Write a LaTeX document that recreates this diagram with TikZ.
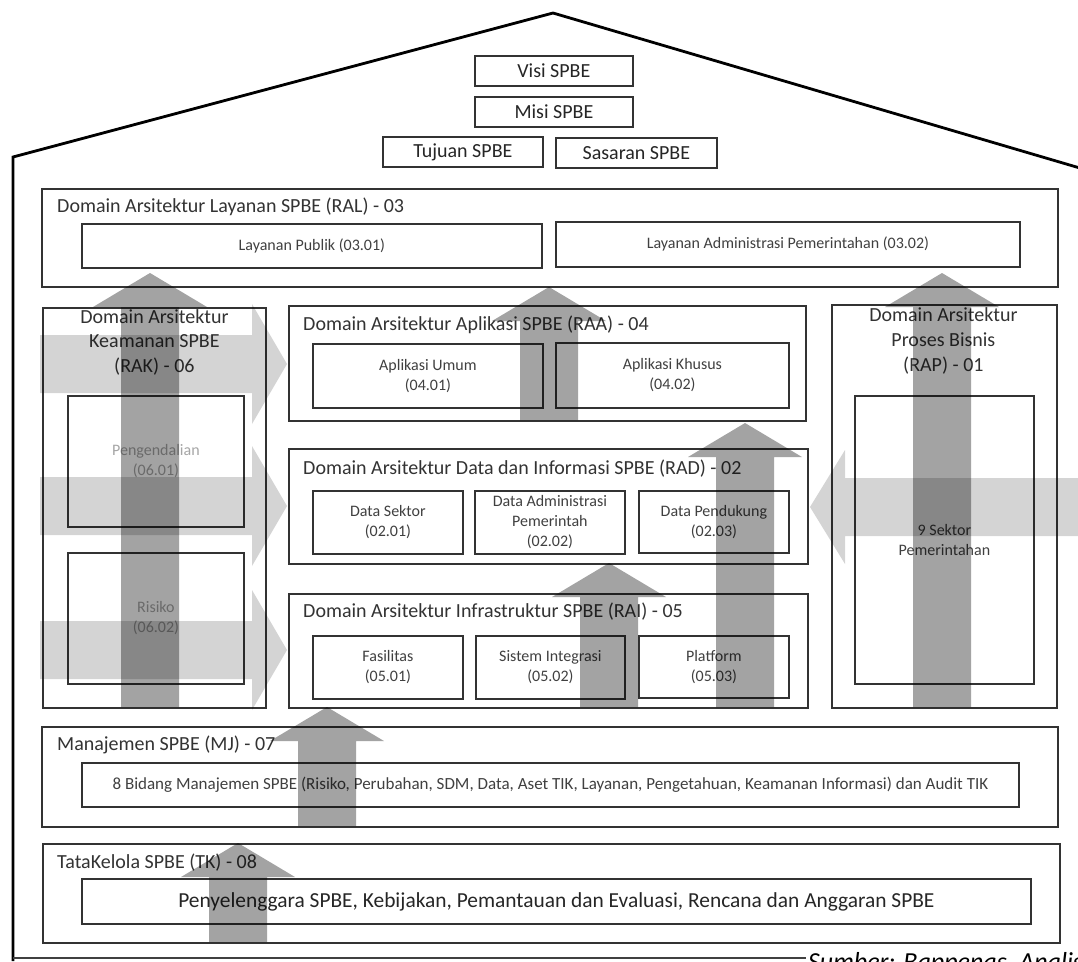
\documentclass[tikz,border=0pt]{standalone}
\usepackage{fontspec}
\setmainfont{Carlito}
\usetikzlibrary{positioning}

\tikzset{
  box/.style={draw=black!80, line width=1.8pt, fill=white, anchor=north west, inner sep=0pt},
  topbox/.style={box, text=black!85, font=\fontsize{20}{24}\selectfont},
  subbox/.style={box, align=center, text=black!75, font=\fontsize{16}{20}\selectfont},
  domtitle/.style={anchor=west, inner sep=0pt, text=black!80, font=\fontsize{20}{24}\selectfont},
  uparrow/.style={fill=black, opacity=0.36},
  sidearrow/.style={fill=black, opacity=0.17},
}

% up arrow: centre x, bottom y, shaft length
\newcommand{\uparr}[3]{%
  \fill[uparrow] (#1,#2) ++(-29,0) -- ++(0,-#3) -- ++(-28,0) -- ++(57,-34)
    -- ++(57,34) -- ++(-28,0) -- ++(0,#3) -- cycle;}
% right arrow out of the security column: centre y
\newcommand{\rightarr}[1]{%
  \fill[sidearrow] (40,#1) ++(0,-29) -- ++(212,0) -- ++(0,-31) -- ++(35,60)
    -- ++(-35,60) -- ++(0,-31) -- ++(-212,0) -- cycle;}

\begin{document}
\begin{tikzpicture}[x=1pt, y=-1pt]
\useasboundingbox (0,0) rectangle (1078,961);
\clip (0,0) rectangle (1078,961);

% house
\draw[line width=2.8pt] (13,961) -- (13,157) -- (553,13) -- (1090,171);
\draw[line width=1.6pt, black!75] (13,958) -- (806,958);

% visi, misi, tujuan, sasaran
\node[topbox, minimum width=158, minimum height=30] (visi) at (474,55) {Visi SPBE};
\node[topbox, minimum width=158, minimum height=30] (misi) at (474,96) {Misi SPBE};
\node[topbox, minimum width=160, minimum height=30] (tujuan) at (382,136) {Tujuan SPBE};
\node[topbox, minimum width=161, minimum height=30] (sasaran) at (555,137) {Sasaran SPBE};

% layanan
\node[box, minimum width=1016, minimum height=98] (ral) at (41,188) {};
\node[domtitle] (ral-t) at ([xshift=16pt, yshift=-19pt]ral.north west) {Domain Arsitektur Layanan SPBE (RAL) - 03};
\node[subbox, minimum width=460, minimum height=44] (ralpub) at (81,223) {Layanan Publik (03.01)};
\node[subbox, minimum width=464, minimum height=45] (raladm) at (555,221) {Layanan Administrasi Pemerintahan (03.02)};

% keamanan
\node[box, minimum width=223, minimum height=400] (rak) at (42,307) {};
\node[domtitle, anchor=north, align=center, font=\fontsize{20}{24.5}\selectfont] (rak-t) at ([yshift=-2pt]rak.north) {Domain Arsitektur\\Keamanan SPBE\\(RAK) - 06};
\node[subbox, text=black!35, minimum width=176, minimum height=131] (rakctl) at (67,395) {Pengendalian\\(06.01)};
\node[subbox, text=black!35, minimum width=176, minimum height=131] (rakrisk) at (67,552) {Risiko\\(06.02)};

% aplikasi
\node[box, minimum width=517, minimum height=115] (raa) at (288,305) {};
\node[domtitle] (raa-t) at ([xshift=15pt, yshift=-20pt]raa.north west) {Domain Arsitektur Aplikasi SPBE (RAA) - 04};
\node[subbox, minimum width=230, minimum height=64] (raaum) at (312,343) {Aplikasi Umum\\(04.01)};
\node[subbox, minimum width=233, minimum height=65] (raakh) at (555,342) {Aplikasi Khusus\\(04.02)};

% data
\node[box, minimum width=519, minimum height=115] (rad) at (288,448) {};
\node[domtitle] (rad-t) at ([xshift=15pt, yshift=-21pt]rad.north west) {Domain Arsitektur Data dan Informasi SPBE (RAD) - 02};
\node[subbox, minimum width=150, minimum height=63] (radsek) at (312,490) {Data Sektor\\(02.01)};
\node[subbox, minimum width=150, minimum height=63] (radadm) at (474,490) {Data Administrasi\\Pemerintah\\(02.02)};
\node[subbox, minimum width=150, minimum height=62] (radpen) at (638,490) {Data Pendukung\\(02.03)};

% infrastruktur
\node[box, minimum width=519, minimum height=114] (rai) at (288,593) {};
\node[domtitle] (rai-t) at ([xshift=15pt, yshift=-19pt]rai.north west) {Domain Arsitektur Infrastruktur SPBE (RAI) - 05};
\node[subbox, minimum width=150, minimum height=63] (raifas) at (312,635) {Fasilitas\\(05.01)};
\node[subbox, minimum width=149, minimum height=63] (raiint) at (475,635) {Sistem Integrasi\\(05.02)};
\node[subbox, minimum width=150, minimum height=62] (raiplat) at (638,635) {Platform\\(05.03)};

% proses bisnis
\node[box, minimum width=225, minimum height=403] (rap) at (831,304) {};
\node[domtitle, anchor=north, align=center, font=\fontsize{20}{25}\selectfont] (rap-t) at ([xshift=-1pt, yshift=-3pt]rap.north) {Domain Arsitektur\\Proses Bisnis\\(RAP) - 01};
\node[subbox, minimum width=179, minimum height=288] (rapsek) at (854,395) {9 Sektor\\Pemerintahan};

% manajemen
\node[box, minimum width=1016, minimum height=100] (mj) at (41,726) {};
\node[domtitle] (mj-t) at ([xshift=16pt, yshift=-19pt]mj.north west) {Manajemen SPBE (MJ) - 07};
\node[subbox, minimum width=937, minimum height=44, font=\fontsize{17}{20}\selectfont] (mjbid) at (81,762) {8 Bidang Manajemen SPBE (Risiko, Perubahan, SDM, Data, Aset TIK, Layanan, Pengetahuan, Keamanan Informasi) dan Audit TIK};

% tata kelola
\node[box, minimum width=1017, minimum height=99] (tk) at (42,843) {};
\node[domtitle] (tk-t) at ([xshift=15pt, yshift=-20pt]tk.north west) {TataKelola SPBE (TK) - 08};
\node[subbox, text=black!85, minimum width=949, minimum height=45, font=\fontsize{21.4}{24}\selectfont] (tkpen) at (81,878) {Penyelenggara SPBE, Kebijakan, Pemantauan dan Evaluasi, Rencana dan Anggaran SPBE};

% source line
\node[anchor=base west, inner sep=0pt, font=\fontsize{26}{30}\selectfont\itshape] (src) at (808,970) {Sumber: Bappenas, Analisa P};

% flows
\rightarr{364}
\rightarr{506}
\rightarr{650}
\fill[sidearrow] (1078,478) -- (845,478) -- (845,450) -- (810,507) -- (845,564) -- (845,536) -- (1078,536) -- cycle;
\uparr{150}{707}{400}
\uparr{942}{707}{400}
\uparr{549}{420}{99}
\uparr{745}{707}{250}
\uparr{609}{707}{110}
\uparr{327}{826}{85}
\uparr{238}{942}{65}
\end{tikzpicture}
\end{document}
